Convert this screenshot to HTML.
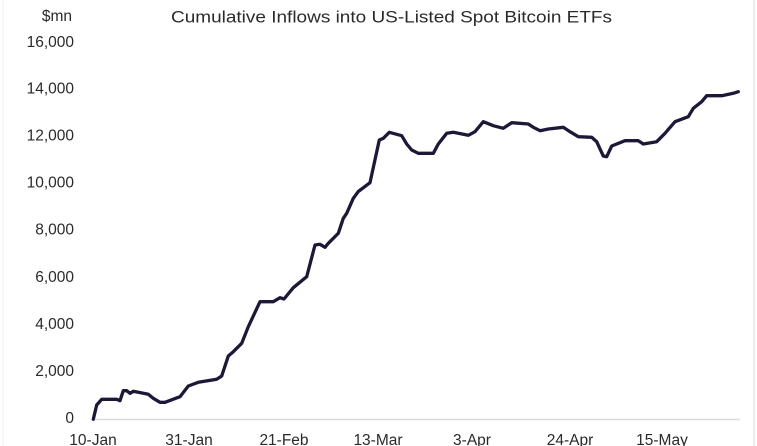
<!DOCTYPE html>
<html><head><meta charset="utf-8"><style>
html,body{margin:0;padding:0;background:#fff;}
svg{display:block;}
</style></head><body>
<svg width="757" height="446" viewBox="0 0 757 446" xmlns="http://www.w3.org/2000/svg">
<rect width="757" height="446" fill="#fff"/>
<line x1="3" y1="0" x2="3" y2="446" stroke="#ececec" stroke-width="1"/>
<line x1="754" y1="0" x2="754" y2="446" stroke="#e6e6e6" stroke-width="1.5"/>
<g font-family="Liberation Sans, sans-serif" fill="#2a2a2a">
<text x="171" y="22.5" font-size="17" textLength="441" lengthAdjust="spacingAndGlyphs">Cumulative Inflows into US-Listed Spot Bitcoin ETFs</text>
<text x="72" y="21" font-size="15.5" text-anchor="end">$mn</text>
<g font-size="15.5" text-anchor="end">
<text x="74" y="47">16,000</text>
<text x="74" y="93.5">14,000</text>
<text x="74" y="140.5">12,000</text>
<text x="74" y="187.5">10,000</text>
<text x="74" y="234.5">8,000</text>
<text x="74" y="282">6,000</text>
<text x="74" y="329">4,000</text>
<text x="74" y="376">2,000</text>
<text x="74" y="423">0</text>
</g>
<g font-size="15.5" text-anchor="middle">
<text x="93" y="445">10-Jan</text>
<text x="189" y="445">31-Jan</text>
<text x="284" y="445">21-Feb</text>
<text x="378" y="445">13-Mar</text>
<text x="472" y="445">3-Apr</text>
<text x="570" y="445">24-Apr</text>
<text x="662" y="445">15-May</text>
</g>
</g>
<line x1="92" y1="419.5" x2="740" y2="419.5" stroke="#dcdcdc" stroke-width="1.5"/>
<polyline fill="none" stroke="#1d1838" stroke-width="3.3" stroke-linejoin="round" stroke-linecap="round" points="
93.3,419.3 96.7,405 101.7,399.3 116.7,399.3 120,400.7 123.3,390.7 126.7,390.7 130,393.3 133.3,391.3 148.3,394.3 153.3,398.3 160,402.3 165,402.3 180,396.7 188.3,386 198.3,382.3 216.7,379.3 221.7,376 228.3,356 233.3,351.7 241.7,343.3 248.3,326.7 260,301.7 273.3,301.7 280,297.7 284,299 293.3,287.7 306.7,276.7 315,245 320,244.3 325,247.3 328.3,243.3 338.3,233.3 343.3,218.3 346.7,213.3 353.3,198.3 358.3,191.5 370,182.7 379.3,140 383.3,138.3 389.3,132.3 401.7,135.7 406.7,144 411.7,150 418.3,153.3 433.3,153.3 438.3,144 446.7,133.3 453.3,132.3 468.3,135.3 475,131.7 483.3,121.7 493.3,125.7 503.3,128.3 511.7,122.7 528.3,124 533.3,127.3 540,130.7 548.3,129 563.3,127.3 570,131.7 578.3,136.7 591.7,137.3 596.7,141.7 603.3,156 606.7,156.7 611.7,146 625,140.7 638.3,140.7 643.3,144 656.7,141.7 665,133.3 675,121.7 688.3,116.7 693.3,108.3 701.7,101.7 706.7,95.7 721.7,95.7 733.3,93.3 738.3,91.7"/>
</svg>
</body></html>
